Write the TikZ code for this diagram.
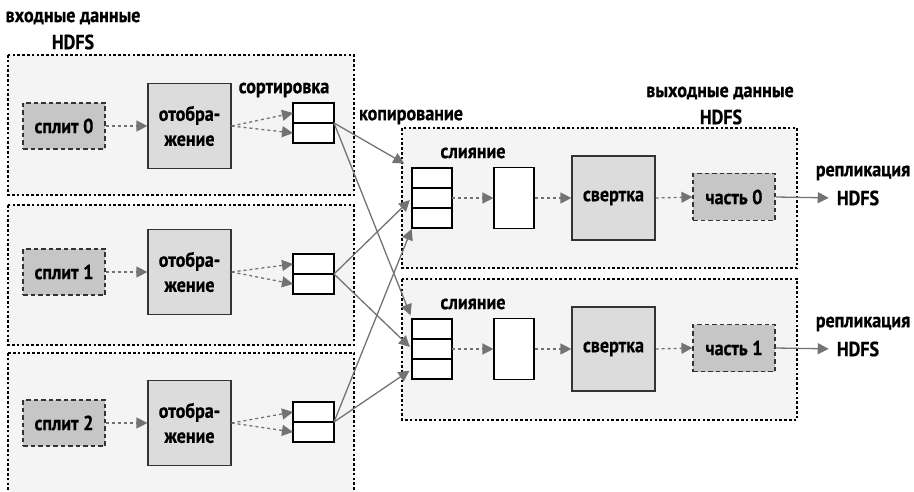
\documentclass[tikz,border=0pt]{standalone}
\usepackage{fontspec}
\setmainfont[FakeStretch=0.88, BoldFeatures={FakeBold=0.6}]{PT Sans}
\usetikzlibrary{arrows.meta}
\definecolor{panelfill}{HTML}{F4F4F4}
\definecolor{mapfill}{HTML}{DCDCDC}
\definecolor{splitfill}{HTML}{C6C6C6}
\definecolor{edgecol}{HTML}{333333}
\definecolor{arrcol}{HTML}{737373}
\tikzset{
  panel/.style={draw=black, fill=panelfill, line width=1.3pt, dash pattern=on 2.6pt off 2.2pt},
  mapbox/.style={draw=edgecol, fill=mapfill, line width=1.2pt, minimum width=83, minimum height=85, inner sep=0pt, align=center},
  splitbox/.style={draw=edgecol, fill=splitfill, line width=1.2pt, dash pattern=on 4.5pt off 3pt, minimum width=82, minimum height=46, inner sep=0pt},
  cellbox/.style={draw=black, fill=white, line width=1.1pt, minimum width=40, minimum height=20, inner sep=0pt, outer sep=0pt},
  midbox/.style={draw=black, fill=white, line width=1.1pt, minimum width=40, minimum height=61, inner sep=0pt},
  lbl/.style={inner sep=0pt, align=center},
  darr/.style={draw=arrcol, line width=1.3pt, dash pattern=on 3pt off 3pt, -{Triangle[length=11pt,width=11pt]}},
  sarr/.style={draw=arrcol, line width=1.3pt, -{Triangle[length=11pt,width=11pt]}},
}
\begin{document}
\begin{tikzpicture}[x=1pt,y=-1pt, font=\bfseries\fontsize{20.5}{25}\selectfont]
\path[use as bounding box] (0,0) rectangle (914,492);
% panels
\path[panel] (8,55) rectangle (354,195);
\path[panel] (8,205) rectangle (354,345);
\begin{scope}
\clip (0,0) rectangle (914,492);
\path[panel] (8,353) rectangle (354,510);
\end{scope}
\path[panel] (402,128) rectangle (797,268);
\path[panel] (402,279) rectangle (797,420);
% labels
\node[lbl] (inA) at (73,18) {входные данные};
\node[lbl] (inB) at (73,42) {HDFS};
\node[lbl] (sortl) at (284,90) {сортировка};
\node[lbl] (copyl) at (411,117) {копирование};
\node[lbl] (outA) at (720,93) {выходные данные};
\node[lbl] (outB) at (721,117) {HDFS};
% input rows
\foreach \i/\y/\d in {0/126/123, 1/272/274, 2/423/422} {
  \node[splitbox] (sp\i) at (64,\y) {сплит \i};
  \node[mapbox] (mp\i) at (189.5,\y) {отобра-\\жение};
  \node[cellbox, minimum width=41, anchor=south] (sa\i) at (313.5,\d) {};
  \node[cellbox, minimum width=41, anchor=north] (sb\i) at (313.5,\d) {};
  \draw[darr] (sp\i) -- (mp\i);
  \draw[darr] (mp\i.east) -- (sa\i.west);
  \draw[darr] (mp\i.east) -- (sb\i.west);
}
% output rows
\foreach \j/\y in {0/198, 1/349} {
  \node[lbl] (ml\j) at (473,\y-45) {слияние};
  \node[cellbox] (mb\j) at (432,\y) {};
  \node[cellbox, anchor=south] (ma\j) at (mb\j.north) {};
  \node[cellbox, anchor=north] (mc\j) at (mb\j.south) {};
  \node[midbox] (md\j) at (514,\y) {};
  \node[mapbox, minimum height=84] (rd\j) at (613.5,\y) {свертка};
  \node[splitbox, minimum height=47] (pt\j) at (734,\y-1) {часть \j};
  \node[lbl] (rp\j) at (863,\y-25) {репликация};
  \node[lbl] (hd\j) at (858,\y) {HDFS};
  \draw[darr] (mb\j.east) -- (md\j.west);
  \draw[darr] (md\j.east) -- (rd\j.west);
  \draw[darr] (rd\j.east) -- (pt\j.west);
  \draw[sarr, shorten >=8pt] (pt\j.east) -- (hd\j.west);
}
% shuffle connectors
\draw[sarr, shorten >=9pt] (sa0.south east) -- (ma0.north west);
\draw[sarr, shorten >=4pt] (sa0.south east) -- (ma1.north west);
\draw[sarr, shorten >=3pt] (sa1.south east) -- (mb0.west);
\draw[sarr, shorten >=3pt] (sa1.south east) -- (mb1.west);
\draw[sarr, shorten >=1pt] (sa2.south east) -- (mc0.south west);
\draw[sarr, shorten >=3pt] (sa2.south east) -- (mc1.west);
\end{tikzpicture}
\end{document}
